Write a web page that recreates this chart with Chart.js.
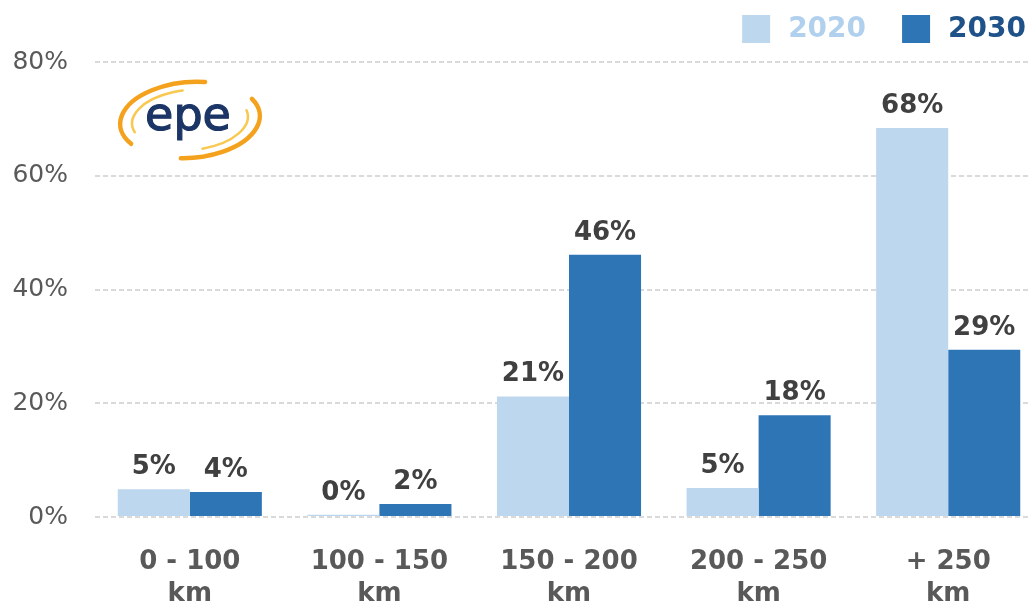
<!DOCTYPE html>
<html>
<head>
<meta charset="utf-8">
<script src="https://cdn.jsdelivr.net/npm/chart.js@4.4.1/dist/chart.umd.min.js"></script>
<style>
html,body{margin:0;padding:0;background:#fff;overflow:hidden;}
#wrap{width:1029px;height:606px;overflow:hidden;position:relative;}
canvas{display:block;}
</style>
</head>
<body>
<div id="wrap"><canvas id="c" width="1043" height="606"></canvas></div>
<script>
const categories = [['0 - 100','km'],['100 - 150','km'],['150 - 200','km'],['200 - 250','km'],['+ 250','km']];
const seriesNames = ['2020','2030'];
const values2020 = [4.9, 0.4, 21.2, 5.1, 68.4];
const values2030 = [4.4, 2.3, 46.1, 17.9, 29.4];
const labels2020 = ['5%','0%','21%','5%','68%'];
const labels2030 = ['4%','2%','46%','18%','29%'];
const yTickValues = [0, 20, 40, 60, 80];
const logoText = 'epe';

const COL_LIGHT = '#bdd7ee';
const COL_DARK = '#2e75b6';
const FONT = '"DejaVu Sans", Verdana, sans-serif';

const valueLabelPlugin = {
  id: 'valueLabels',
  afterDatasetsDraw(chart) {
    const ctx = chart.ctx;
    ctx.save();
    ctx.font = 'bold 26px ' + FONT;
    ctx.fillStyle = '#404040';
    ctx.textAlign = 'center';
    ctx.textBaseline = 'alphabetic';
    chart.data.datasets.forEach((ds, di) => {
      const meta = chart.getDatasetMeta(di);
      meta.data.forEach((bar, i) => {
        ctx.fillText(ds.valueLabels[i], bar.x, bar.y - 15);
      });
    });
    ctx.restore();
  }
};

const legendPlugin = {
  id: 'customLegend',
  afterDraw(chart) {
    const ctx = chart.ctx;
    ctx.save();
    ctx.font = 'bold 28px ' + FONT;
    ctx.textBaseline = 'middle';
    ctx.textAlign = 'left';
    let right = 1026;
    const items = chart.data.datasets.map(d => d).reverse();
    items.forEach(ds => {
      const w = ctx.measureText(ds.label).width;
      const tx = right - w;
      const bx = tx - 18 - 28;
      ctx.fillStyle = ds.backgroundColor;
      ctx.fillRect(bx, 15, 28, 28);
      ctx.fillStyle = ds.legendTextColor;
      ctx.fillText(ds.label, tx, 30);
      right = bx - 36;
    });
    ctx.restore();
  }
};

const logoPlugin = {
  id: 'logo',
  afterDraw(chart) {
    const ctx = chart.ctx;
    const cx = 190, cy = 120;
    ctx.save();
    ctx.lineCap = 'round';
    const d = Math.PI / 180;
    ctx.strokeStyle = '#f4a21e';
    ctx.lineWidth = 4.5;
    ctx.beginPath(); ctx.ellipse(cx, cy, 70, 38, -0.08, 150 * d, 285 * d); ctx.stroke();
    ctx.beginPath(); ctx.ellipse(cx, cy, 70, 38, -0.08, -25 * d, 100 * d); ctx.stroke();
    ctx.strokeStyle = '#f8c850';
    ctx.lineWidth = 2.5;
    ctx.beginPath(); ctx.ellipse(cx, cy, 58, 30, -0.08, 165 * d, 265 * d); ctx.stroke();
    ctx.beginPath(); ctx.ellipse(cx, cy, 58, 30, -0.08, -10 * d, 80 * d); ctx.stroke();
    ctx.font = '46px ' + FONT;
    ctx.fillStyle = '#1b3566';
    ctx.strokeStyle = '#1b3566';
    ctx.lineWidth = 1.2;
    ctx.textAlign = 'center';
    ctx.textBaseline = 'alphabetic';
    ctx.fillText(logoText, cx - 2, cy + 10);
    ctx.strokeText(logoText, cx - 2, cy + 10);
    ctx.restore();
  }
};

new Chart(document.getElementById('c'), {
  type: 'bar',
  data: {
    labels: categories,
    datasets: [
      { label: seriesNames[0], data: values2020, backgroundColor: COL_LIGHT, legendTextColor: '#b0d0ee', valueLabels: labels2020,
        categoryPercentage: 0.76, barPercentage: 1.0 },
      { label: seriesNames[1], data: values2030, backgroundColor: COL_DARK, legendTextColor: '#1f5288', valueLabels: labels2030,
        categoryPercentage: 0.76, barPercentage: 1.0 }
    ]
  },
  options: {
    responsive: false,
    animation: false,
    devicePixelRatio: 1,
    layout: { padding: { top: 62, left: 0, right: 0, bottom: 0 } },
    plugins: { legend: { display: false }, tooltip: { enabled: false } },
    scales: {
      x: {
        grid: { display: false },
        border: { display: false },
        ticks: { color: '#595959', font: { family: FONT, size: 26, weight: 'bold', lineHeight: 1.23 }, padding: 21, maxRotation: 0, autoSkip: false },
        afterFit(scale) { scale.height = 89; }
      },
      y: {
        min: 0, max: 80,
        afterBuildTicks(scale) { scale.ticks = yTickValues.map(v => ({ value: v })); },
        grid: { color: '#dadada', lineWidth: 2, drawTicks: false },
        border: { display: false, dash: [5, 3] },
        ticks: { color: '#595959', font: { family: FONT, size: 25 }, padding: 27, callback: v => v + '%' },
        afterFit(scale) { scale.width = 95; }
      }
    }
  },
  plugins: [valueLabelPlugin, legendPlugin, logoPlugin]
});
</script>
</body>
</html>
